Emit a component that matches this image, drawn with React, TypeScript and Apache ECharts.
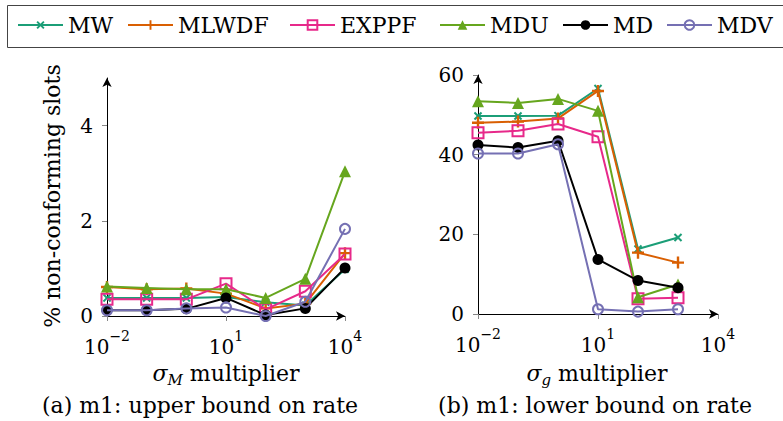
import React, { useEffect, useRef } from "react";
import * as echarts from "echarts";

const seriesNames = ["MW", "MLWDF", "EXPPF", "MDU", "MD", "MDV"];
const colors = ["#1b9e77", "#d95f02", "#e7298a", "#66a61e", "#000000", "#7570b3"];

const xLeft = [0.01, 0.1, 1, 10, 100, 1000, 10000];
const xRight = [0.01, 0.1, 1, 10, 100, 1000];

const leftMW = [0.38, 0.38, 0.38, 0.4, 0.29, 0.22, 0.98];
const leftMLWDF = [0.61, 0.56, 0.58, 0.47, 0.16, 0.26, 1.32];
const leftEXPPF = [0.35, 0.35, 0.35, 0.68, 0.14, 0.52, 1.3];
const leftMDU = [0.62, 0.59, 0.56, 0.56, 0.38, 0.78, 3.04];
const leftMD = [0.12, 0.12, 0.15, 0.38, 0.02, 0.16, 1.01];
const leftMDV = [0.12, 0.12, 0.16, 0.18, 0.0, 0.3, 1.83];

const rightMW = [49.7, 49.7, 49.8, 56.6, 16.3, 19.2];
const rightMLWDF = [48.0, 48.3, 49.1, 56.0, 15.4, 12.9];
const rightEXPPF = [45.5, 46.0, 47.7, 44.5, 3.8, 4.1];
const rightMDU = [53.4, 53.0, 54.0, 51.0, 4.2, 7.4];
const rightMD = [42.4, 41.8, 43.5, 13.7, 8.4, 6.6];
const rightMDV = [40.3, 40.3, 42.6, 1.2, 0.6, 1.2];

const xTicks = [0.01, 10, 10000];
const leftYTicks = [0, 2, 4];
const rightYTicks = [0, 20, 40, 60];

const captionA = "(a) m1: upper bound on rate";
const captionB = "(b) m1: lower bound on rate";

const FONT = "DejaVu Serif";
const PLUS = "path://M4,0H6V4H10V6H6V10H4V6H0V4H4Z";

const markers: any[] = [
  { symbol: PLUS, symbolSize: 10, symbolRotate: 45, fill: colors[0], border: 0 },
  { symbol: PLUS, symbolSize: 12, symbolRotate: 0, fill: colors[1], border: 0 },
  { symbol: "rect", symbolSize: 11, symbolRotate: 0, fill: "rgba(0,0,0,0)", border: 2 },
  { symbol: "triangle", symbolSize: 12, symbolRotate: 0, fill: colors[3], border: 0 },
  { symbol: "circle", symbolSize: 11, symbolRotate: 0, fill: colors[4], border: 0 },
  { symbol: "circle", symbolSize: 10, symbolRotate: 0, fill: "rgba(0,0,0,0)", border: 2 },
];

function logLabel(v: number) {
  const e = Math.round(Math.log10(v));
  const s = e < 0 ? "\u2212" + -e : String(e);
  return "{b|10}{s|" + s + "}";
}

const tickRich = {
  b: { fontSize: 20, fontFamily: FONT, color: "#000", lineHeight: 28, verticalAlign: "bottom" },
  s: { fontSize: 14, fontFamily: FONT, color: "#000", lineHeight: 14, verticalAlign: "top" },
};

function makeXAxis(gridIndex: number) {
  return {
    type: "log",
    gridIndex,
    logBase: 10,
    min: 0.01,
    max: 10000,
    axisLine: {
      show: true,
      onZero: false,
      symbol: ["none", "arrow"],
      symbolSize: [7, 9],
      lineStyle: { color: "#000", width: 1 },
    },
    axisTick: { show: true, length: 5, customValues: xTicks, lineStyle: { color: "#888" } },
    minorTick: { show: false },
    splitLine: { show: false },
    axisLabel: {
      customValues: xTicks,
      formatter: logLabel,
      margin: 13,
      fontFamily: FONT,
      rich: tickRich,
    },
  };
}

function makeYAxis(gridIndex: number, max: number, ticks: number[]) {
  return {
    type: "value",
    gridIndex,
    min: 0,
    max,
    axisLine: {
      show: true,
      symbol: ["none", "arrow"],
      symbolSize: [7, 9],
      lineStyle: { color: "#000", width: 1 },
    },
    axisTick: { show: true, length: 5, customValues: ticks, lineStyle: { color: "#888" } },
    splitLine: { show: false },
    axisLabel: {
      customValues: ticks,
      margin: 14,
      fontSize: 20,
      fontFamily: FONT,
      color: "#000",
    },
  };
}

function makeSeries(name: string, idx: number, xs: number[], ys: number[], axisIndex: number) {
  const m = markers[idx];
  return {
    type: "line",
    name,
    xAxisIndex: axisIndex,
    yAxisIndex: axisIndex,
    data: xs.map((x, i) => [x, ys[i]]),
    symbol: m.symbol,
    symbolSize: m.symbolSize,
    symbolRotate: m.symbolRotate,
    showAllSymbol: true,
    lineStyle: { color: colors[idx], width: 2 },
    itemStyle: {
      color: m.fill,
      borderColor: colors[idx],
      borderWidth: m.border,
      opacity: 1,
    },
    emphasis: { disabled: true },
    z: 2 + idx,
  };
}

const legendLefts = [17, 127, 289, 439, 562, 666];

const richName = {
  i: { fontSize: 22, fontFamily: FONT, fontStyle: "italic", lineHeight: 28, fill: "#000" },
  sub: { fontSize: 15, fontFamily: FONT, fontStyle: "italic", lineHeight: 14, verticalAlign: "bottom", fill: "#000" },
  t: { fontSize: 22, fontFamily: FONT, lineHeight: 28, fill: "#000" },
};

function buildOption() {
  const leftData = [leftMW, leftMLWDF, leftEXPPF, leftMDU, leftMD, leftMDV];
  const rightData = [rightMW, rightMLWDF, rightEXPPF, rightMDU, rightMD, rightMDV];
  const series: any[] = [];
  seriesNames.forEach((n, i) => series.push(makeSeries(n, i, xLeft, leftData[i], 0)));
  seriesNames.forEach((n, i) => series.push(makeSeries(n, i, xRight, rightData[i], 1)));

  const legends = seriesNames.map((n, i) => ({
    data: [n],
    left: legendLefts[i],
    top: 12,
    padding: 0,
    itemWidth: 45,
    itemHeight: 12,
    itemGap: 0,
    selectedMode: false,
    textStyle: { fontSize: 22, fontFamily: FONT, color: "#000", lineHeight: 26 },
  }));

  const caption = (text: string, x: number) => ({
    type: "text",
    x,
    y: 405,
    style: {
      text,
      fontSize: 22,
      fontFamily: FONT,
      fill: "#000",
      align: "center",
      verticalAlign: "middle",
    },
  });

  return {
    animation: false,
    backgroundColor: "#fff",
    textStyle: { fontFamily: FONT },
    legend: legends,
    grid: [
      { left: 107, right: 438, top: 78, bottom: 105 },
      { left: 478, right: 65, top: 75, bottom: 107 },
    ],
    xAxis: [makeXAxis(0), makeXAxis(1)],
    yAxis: [makeYAxis(0, 5, leftYTicks), makeYAxis(1, 60, rightYTicks)],
    series,
    graphic: [
      {
        type: "rect",
        shape: { x: 7.5, y: 5.5, width: 800, height: 42 },
        style: { fill: "none", stroke: "#444", lineWidth: 1 },
        silent: true,
      },
      {
        type: "text",
        x: 52,
        y: 196,
        rotation: Math.PI / 2,
        style: {
          text: "% non-conforming slots",
          fontSize: 22,
          fontFamily: FONT,
          fill: "#000",
          align: "center",
          verticalAlign: "middle",
        },
      },
      {
        type: "text",
        x: 226,
        y: 373,
        style: {
          text: "{i|\u03c3}{sub|M}{t| multiplier}",
          fontFamily: FONT,
          align: "center",
          verticalAlign: "middle",
          rich: richName,
        },
      },
      {
        type: "text",
        x: 597,
        y: 373,
        style: {
          text: "{i|\u03c3}{sub|g}{t| multiplier}",
          fontFamily: FONT,
          align: "center",
          verticalAlign: "middle",
          rich: richName,
        },
      },
      caption(captionA, 200),
      caption(captionB, 595),
    ],
  };
}

export default function App() {
  const ref = useRef<HTMLDivElement>(null);
  useEffect(() => {
    if (!ref.current) return;
    const chart = echarts.init(ref.current, null, { renderer: "svg" });
    chart.setOption(buildOption());
    return () => chart.dispose();
  }, []);
  return <div ref={ref} style={{ width: 783, height: 421, position: "absolute", left: 0, top: 0 }} />;
}
